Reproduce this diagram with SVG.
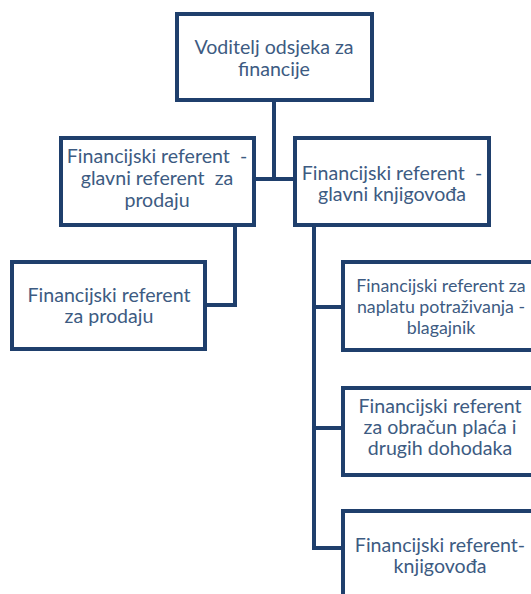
<svg xmlns="http://www.w3.org/2000/svg" width="531" height="594" viewBox="0 0 531 594">
<style>
.box{fill:#ffffff;stroke:#1f3f6c;stroke-width:4}
.con{fill:none;stroke:#1f3f6c;stroke-width:4}
text{font-family:Lato,"Open Sans",sans-serif;font-size:19.6px;fill:#3d5b82;text-anchor:middle;white-space:pre}
.sm{font-size:17.8px}
</style>
<rect width="531" height="594" fill="#ffffff"/>
<g id="connectors">
<path class="con" d="M274 100V179M254 179H295"/>
<path class="con" d="M235 225V305H205"/>
<path class="con" d="M314 225V548H343M314 307H343M314 428H343"/>
</g>
<g id="n1"><rect class="box" x="177" y="14" width="195" height="86"/>
<text x="274" y="54">Voditelj odsjeka za</text><text x="274" y="76">financije</text></g>
<g id="n2"><rect class="box" x="61" y="138" width="193" height="87"/>
<text x="157" y="163">Financijski referent  -</text><text x="157" y="185">glavni referent  za</text><text x="157" y="207">prodaju</text></g>
<g id="n3"><rect class="box" x="295" y="138" width="194" height="87"/>
<text x="392" y="180">Financijski referent  -</text><text x="392" y="201">glavni knjigovođa</text></g>
<g id="n4"><rect class="box" x="12" y="262" width="193" height="87"/>
<text x="109" y="302">Financijski referent</text><text x="109" y="323">za prodaju</text></g>
<g id="n5"><rect class="box" x="343" y="262" width="194" height="88"/>
<text class="sm" x="441" y="292">Financijski referent za</text><text class="sm" x="441" y="313">naplatu potraživanja -</text><text class="sm" x="441" y="334">blagajnik</text></g>
<g id="n6"><rect class="box" x="343" y="388" width="194" height="87"/>
<text x="440" y="413">Financijski referent</text><text x="440" y="434">za obračun plaća i</text><text x="440" y="455">drugih dohodaka</text></g>
<g id="n7"><rect class="box" x="343" y="511" width="194" height="88"/>
<text x="440" y="552">Financijski referent-</text><text x="440" y="573">knjigovođa</text></g>
</svg>
